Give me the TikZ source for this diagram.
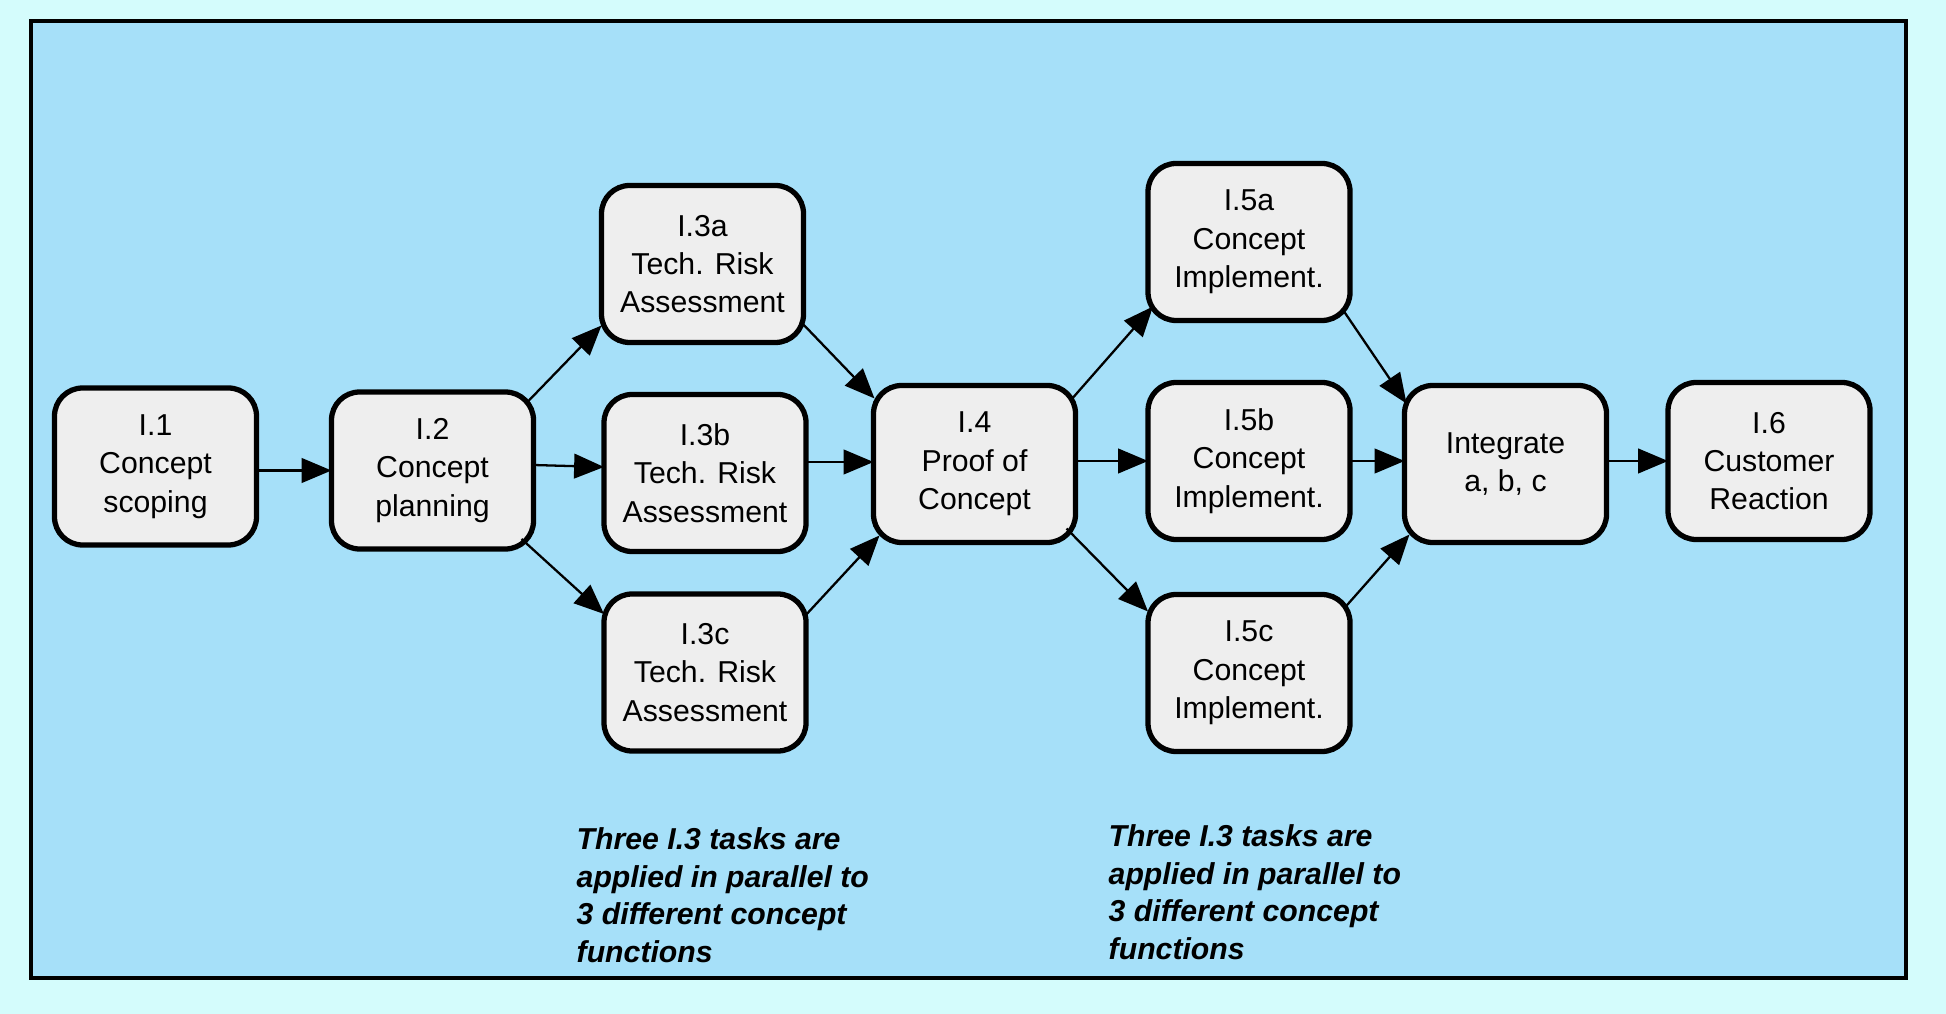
\documentclass[tikz,border=0pt]{standalone}
\usepackage{fontspec}
\setmainfont{Liberation Sans}
\usetikzlibrary{arrows.meta}
\definecolor{MyPaleCyan}{RGB}{212,252,252}
\definecolor{MySkyBlue}{RGB}{166,224,249}
\definecolor{MyBoxGrey}{RGB}{238,238,238}

\begin{document}
\begin{tikzpicture}[>={Triangle[length=8.5pt,width=7pt]},
		task/.style={draw=black, line width=1.5pt, fill=MyBoxGrey, rounded corners=8pt,
			align=center, minimum width=2.02cm, minimum height=1.57cm,
			inner sep=2pt, outer sep=0pt, font=\fontsize{8.6}{10.9}\selectfont},
		arrow/.style={->, line width=0.65pt, black},
		note/.style={anchor=north west, align=left, inner sep=0pt,
			font=\fontsize{8.6}{10.7}\selectfont\bfseries\itshape}]
		\fill[MyPaleCyan] (0,0) rectangle (19.46,-10.14);
		\draw[line width=0.9pt, fill=MySkyBlue] (0.31,-0.21) rectangle (19.06,-9.78);
		\node[task] (i1) at (1.555,-4.665) {I.1\\Concept\\scoping};
		\node[task] (i2) at (4.325,-4.705) {I.2\\Concept\\planning};
		\node[task] (i3a) at (7.025,-2.64) {I.3a\\Tech. Risk\\Assessment};
		\node[task] (i3b) at (7.05,-4.73) {I.3b\\Tech. Risk\\Assessment};
		\node[task] (i3c) at (7.05,-6.725) {I.3c\\Tech. Risk\\Assessment};
		\node[task] (i4) at (9.745,-4.64) {I.4\\Proof of\\Concept};
		\node[task] (i5a) at (12.49,-2.42) {I.5a\\Concept\\Implement.};
		\node[task] (i5b) at (12.49,-4.61) {I.5b\\Concept\\Implement.};
		\node[task] (i5c) at (12.49,-6.73) {I.5c\\Concept\\Implement.};
		\node[task] (int) at (15.055,-4.64) {Integrate\\a, b, c};
		\node[task] (i6) at (17.69,-4.61) {I.6\\Customer\\Reaction};
		\node[note] (note3) at (5.76,-8.27)
			{Three I.3 tasks are\\applied in parallel to\\3 different concept\\functions};
		\node[note] (note5) at (11.08,-8.24)
			{Three I.3 tasks are\\applied in parallel to\\3 different concept\\functions};
		\draw[arrow] (i1.east |- i2.west) -- (i2.west);
		\draw[arrow] ([xshift=-0.08cm,yshift=-0.12cm]i2.north east) -- ([yshift=0.17cm]i3a.south west);
		\draw[arrow] ([yshift=0.055cm]i2.east) -- ([yshift=0.06cm]i3b.west);
		\draw[arrow] ([xshift=-0.12cm,yshift=0.10cm]i2.south east) -- ([yshift=-0.20cm]i3c.north west);
		\draw[arrow] ([xshift=-0.03cm,yshift=0.21cm]i3a.south east) -- ([xshift=0.01cm,yshift=-0.13cm]i4.north west);
		\draw[arrow] ([yshift=0.11cm]i3b.east) -- ([yshift=0.11cm]i3b.east -| i4.west);
		\draw[arrow] ([xshift=-0.02cm,yshift=-0.23cm]i3c.north east) -- ([xshift=0.06cm,yshift=0.07cm]i4.south west);
		\draw[arrow] ([xshift=-0.05cm,yshift=-0.15cm]i4.north east) -- ([xshift=0.05cm,yshift=0.14cm]i5a.south west);
		\draw[arrow] (i4.east |- i5b.west) -- (i5b.west);
		\draw[arrow] ([xshift=-0.09cm,yshift=0.14cm]i4.south east) -- ([yshift=-0.17cm]i5c.north west);
		\draw[arrow] ([xshift=-0.08cm,yshift=0.12cm]i5a.south east) -- ([xshift=0.02cm,yshift=-0.18cm]int.north west);
		\draw[arrow] (i5b.east) -- (i5b.east -| int.west);
		\draw[arrow] ([xshift=-0.06cm,yshift=-0.14cm]i5c.north east) -- ([xshift=0.05cm,yshift=0.08cm]int.south west);
		\draw[arrow] (int.east |- i6.west) -- (i6.west);
	\end{tikzpicture}
\end{document}
